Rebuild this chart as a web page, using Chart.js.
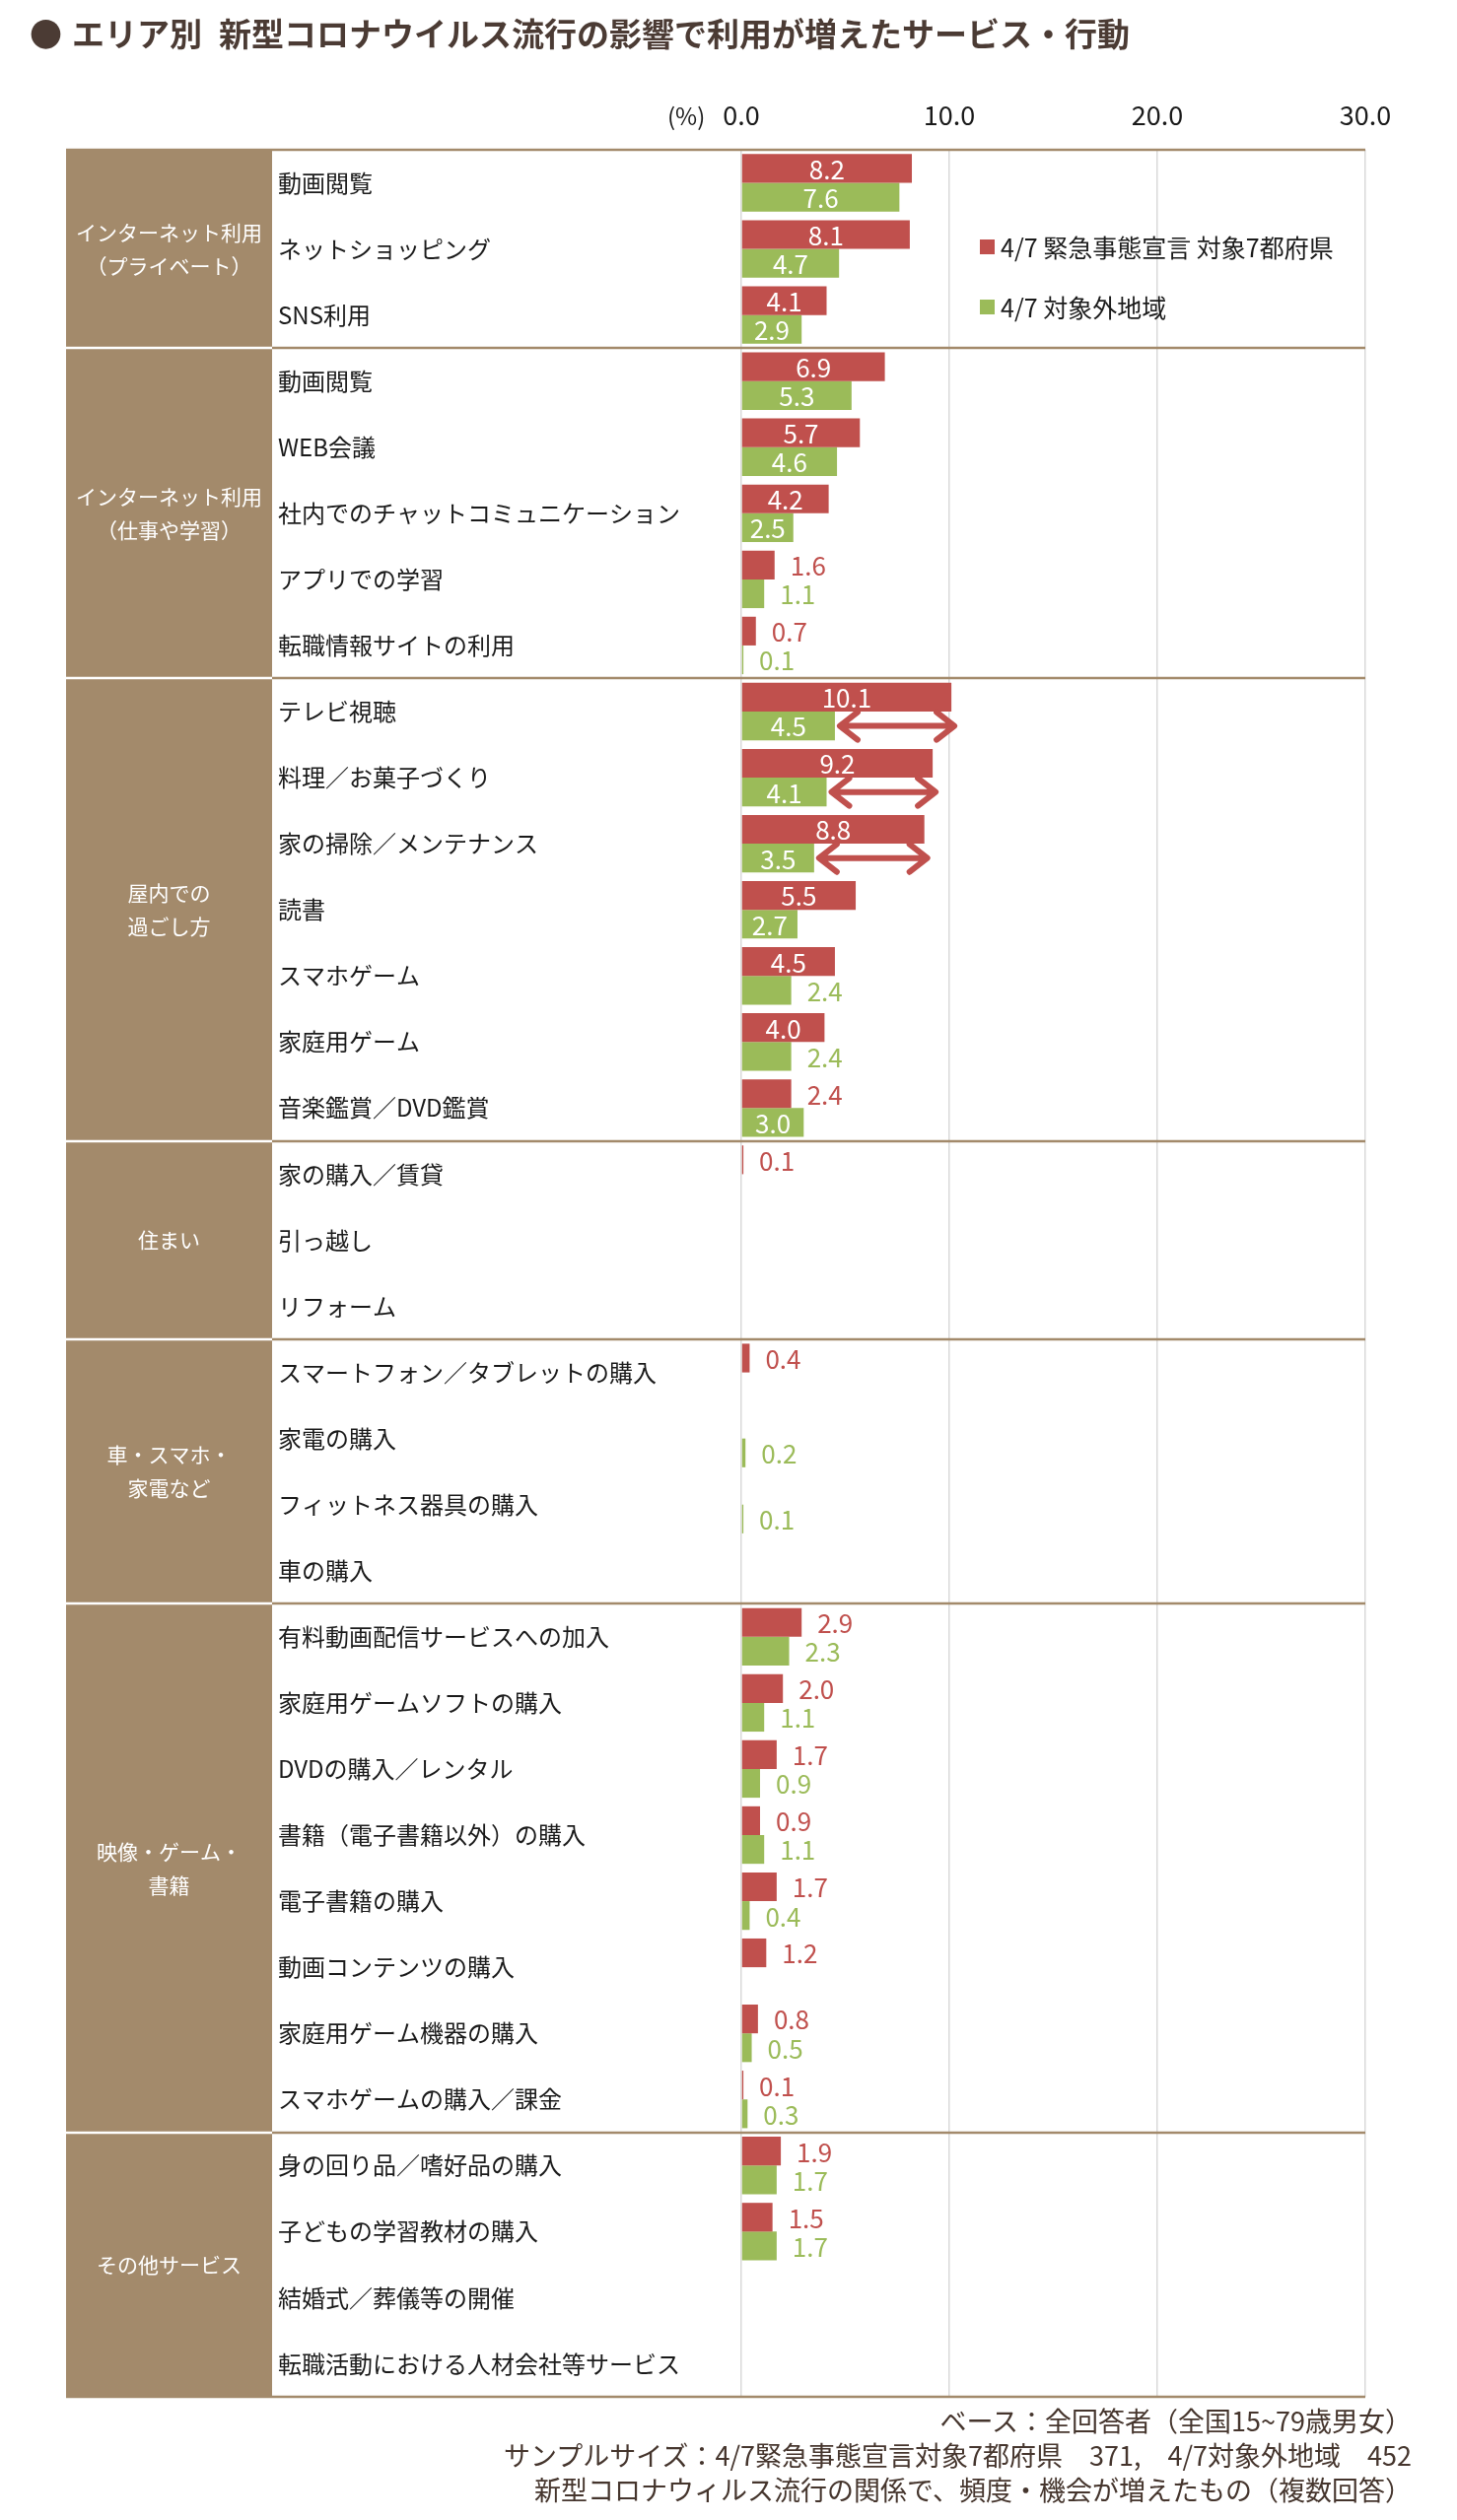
<!DOCTYPE html>
<html>
<head>
<meta charset="utf-8">
<script src="https://cdn.jsdelivr.net/npm/chart.js@4.4.1/dist/chart.umd.min.js"></script>
<style>
  body { margin: 0; background: #fff; font-family: "Noto Sans CJK JP", "Noto Sans", sans-serif; }
  #page { position: relative; width: 1478px; height: 2557px; overflow: hidden; }
  #chart { position: absolute; left: 0; top: 0; }
  .title { position: absolute; top: 13px; font-size: 33px; font-weight: bold; color: #4b3b34; line-height: 40px; white-space: nowrap; }
  .unit { position: absolute; left: 677px; top: 100px; font-size: 24px; line-height: 34px; color: #1a1a1a; }
  .legend { position: absolute; left: 994px; font-size: 25px; line-height: 36px; color: #1a1a1a; display: flex; align-items: center; white-space: nowrap; }
  .legend i { display: inline-block; width: 15px; height: 15px; margin-right: 6px; }
  .foot { position: absolute; right: 46px; font-size: 27px; line-height: 35px; color: #45352d; white-space: nowrap; text-align: right; }
</style>
</head>
<body>
<div id="page">
  <canvas id="chart" width="1478" height="2557"></canvas>
  <div class="title" style="left:30px">●</div>
  <div class="title" style="left:73px">エリア別</div>
  <div class="title" style="left:222px">新型コロナウイルス流行の影響で利用が増えたサービス・行動</div>
  <div class="unit">(%)</div>
  <div class="legend" style="top:232px"><i style="background:#c0504d"></i>4/7 緊急事態宣言 対象7都府県</div>
  <div class="legend" style="top:293px"><i style="background:#9bbb59"></i>4/7 対象外地域</div>
  <div class="foot" style="top:2438px">ベース：全回答者（全国15~79歳男女）</div>
  <div class="foot" style="top:2473px">サンプルサイズ：4/7緊急事態宣言対象7都府県　371,　4/7対象外地域　452</div>
  <div class="foot" style="top:2508px">新型コロナウィルス流行の関係で、頻度・機会が増えたもの（複数回答）</div>
</div>
<script>
// groups on the left (rows per group)
const sectionNames = [
  ["インターネット利用", "（プライベート）"],
  ["インターネット利用", "（仕事や学習）"],
  ["屋内での", "過ごし方"],
  ["住まい"],
  ["車・スマホ・", "家電など"],
  ["映像・ゲーム・", "書籍"],
  ["その他サービス"]
]
const sectionSizes = [3, 5, 7, 3, 4, 8, 4]

const itemLabels = [
  "動画閲覧", "ネットショッピング", "SNS利用",
  "動画閲覧", "WEB会議", "社内でのチャットコミュニケーション", "アプリでの学習", "転職情報サイトの利用",
  "テレビ視聴", "料理／お菓子づくり", "家の掃除／メンテナンス", "読書", "スマホゲーム", "家庭用ゲーム", "音楽鑑賞／DVD鑑賞",
  "家の購入／賃貸", "引っ越し", "リフォーム",
  "スマートフォン／タブレットの購入", "家電の購入", "フィットネス器具の購入", "車の購入",
  "有料動画配信サービスへの加入", "家庭用ゲームソフトの購入", "DVDの購入／レンタル", "書籍（電子書籍以外）の購入",
  "電子書籍の購入", "動画コンテンツの購入", "家庭用ゲーム機器の購入", "スマホゲームの購入／課金",
  "身の回り品／嗜好品の購入", "子どもの学習教材の購入", "結婚式／葬儀等の開催", "転職活動における人材会社等サービス"
]

const seriesNames = ["4/7 緊急事態宣言 対象7都府県", "4/7 対象外地域"]

const emergencyValues = [
  8.2, 8.1, 4.1,
  6.9, 5.7, 4.2, 1.6, 0.7,
  10.1, 9.2, 8.8, 5.5, 4.5, 4.0, 2.4,
  0.1, null, null,
  0.4, null, null, null,
  2.9, 2.0, 1.7, 0.9, 1.7, 1.2, 0.8, 0.1,
  1.9, 1.5, null, null
]
const otherValues = [
  7.6, 4.7, 2.9,
  5.3, 4.6, 2.5, 1.1, 0.1,
  4.5, 4.1, 3.5, 2.7, 2.4, 2.4, 3.0,
  null, null, null,
  null, 0.2, 0.1, null,
  2.3, 1.1, 0.9, 1.1, 0.4, null, 0.5, 0.3,
  1.7, 1.7, null, null
]

// rows with the gap arrow (green end -> red end)
const arrowRows = [8, 9, 10]
const xMin = 0, xMax = 30, xStep = 10

const BROWN = "#a38a6b"
const RED = "#c0504d"
const GREEN = "#9bbb59"
const FONT = '"Noto Sans CJK JP", "Noto Sans", sans-serif'
const COL_LEFT = 67, COL_RIGHT = 276

const tablePlugin = {
  id: "table",
  beforeDraw(chart) {
    const { ctx, scales: { y } } = chart
    const rowH = y.getPixelForValue(1) - y.getPixelForValue(0)
    let start = 0
    ctx.save()
    sectionSizes.forEach((n, i) => {
      const top = y.getPixelForValue(start) - rowH / 2
      const bottom = y.getPixelForValue(start + n - 1) + rowH / 2
      ctx.fillStyle = BROWN
      ctx.fillRect(COL_LEFT, top, COL_RIGHT - COL_LEFT, bottom - top)
      const lines = sectionNames[i]
      const lh = 34
      const mid = (top + bottom) / 2
      ctx.fillStyle = "#fff"
      ctx.font = "21px " + FONT
      ctx.textAlign = "center"
      ctx.textBaseline = "middle"
      lines.forEach((t, j) => {
        ctx.fillText(t, (COL_LEFT + COL_RIGHT) / 2, mid + (j - (lines.length - 1) / 2) * lh)
      })
      start += n
    })
    ctx.restore()
  },
  afterDraw(chart) {
    const { ctx, chartArea, scales: { y } } = chart
    const rowH = y.getPixelForValue(1) - y.getPixelForValue(0)
    let k = 0
    const bounds = [0]
    sectionSizes.forEach(n => { k += n; bounds.push(k) })
    ctx.save()
    ctx.lineWidth = 2.5
    bounds.forEach((b, i) => {
      const py = Math.round(y.getPixelForValue(b) - rowH / 2)
      const edge = i === 0 || i === bounds.length - 1
      ctx.strokeStyle = BROWN
      ctx.beginPath()
      ctx.moveTo(edge ? COL_LEFT : COL_RIGHT, py)
      ctx.lineTo(chartArea.right, py)
      ctx.stroke()
      if (!edge) {
        ctx.strokeStyle = "#fff"
        ctx.beginPath()
        ctx.moveTo(COL_LEFT, py)
        ctx.lineTo(COL_RIGHT, py)
        ctx.stroke()
      }
    })
    ctx.restore()
  }
}

const valueLabels = {
  id: "valueLabels",
  afterDatasetsDraw(chart) {
    const { ctx } = chart
    ctx.save()
    ctx.font = "26px " + FONT
    ctx.textBaseline = "middle"
    chart.data.datasets.forEach((ds, di) => {
      const meta = chart.getDatasetMeta(di)
      meta.data.forEach((bar, i) => {
        const v = ds.data[i]
        if (v === null) return
        const txt = v.toFixed(1)
        if (i < 15 && v >= 2.5) {
          ctx.fillStyle = "#fff"
          ctx.textAlign = "center"
          ctx.fillText(txt, (bar.base + bar.x) / 2, bar.y + 1)
        } else {
          ctx.fillStyle = ds.backgroundColor
          ctx.textAlign = "left"
          ctx.fillText(txt, bar.x + 16, bar.y + 1)
        }
      })
    })
    ctx.restore()
  }
}

const gapArrows = {
  id: "gapArrows",
  afterDatasetsDraw(chart) {
    const { ctx, scales: { x } } = chart
    const green = chart.getDatasetMeta(1)
    ctx.save()
    ctx.strokeStyle = RED
    ctx.lineWidth = 6
    ctx.lineCap = "round"
    ctx.lineJoin = "round"
    arrowRows.forEach(i => {
      const cy = green.data[i].y
      const x0 = x.getPixelForValue(otherValues[i]) + 5
      const x1 = x.getPixelForValue(emergencyValues[i]) + 3
      ctx.beginPath()
      ctx.moveTo(x0 + 2, cy)
      ctx.lineTo(x1 - 2, cy)
      ctx.moveTo(x0 + 18, cy - 14)
      ctx.lineTo(x0, cy)
      ctx.lineTo(x0 + 18, cy + 14)
      ctx.moveTo(x1 - 18, cy - 14)
      ctx.lineTo(x1, cy)
      ctx.lineTo(x1 - 18, cy + 14)
      ctx.stroke()
    })
    ctx.restore()
  }
}

new Chart(document.getElementById("chart").getContext("2d"), {
  type: "bar",
  data: {
    labels: itemLabels,
    datasets: [
      { label: seriesNames[0], data: emergencyValues, backgroundColor: RED },
      { label: seriesNames[1], data: otherValues, backgroundColor: GREEN }
    ]
  },
  options: {
    indexAxis: "y",
    responsive: false,
    animation: false,
    events: [],
    categoryPercentage: 0.87,
    barPercentage: 1.0,
    layout: { padding: { left: 282, right: 93, top: 0, bottom: 125 } },
    plugins: { legend: { display: false }, tooltip: { enabled: false } },
    scales: {
      x: {
        position: "top",
        min: xMin,
        max: xMax,
        ticks: {
          stepSize: xStep,
          padding: 19,
          color: "#1a1a1a",
          font: { family: FONT, size: 27 },
          callback: v => v.toFixed(1)
        },
        grid: { color: "#d9d9d9", lineWidth: 1.5, drawTicks: false },
        border: { display: false },
        afterFit: axis => { axis.height = 152 }
      },
      y: {
        ticks: {
          autoSkip: false,
          crossAlign: "far",
          color: "#1a1a1a",
          font: { family: FONT, size: 24 }
        },
        grid: { display: false },
        border: { display: false },
        afterFit: axis => { axis.width = 752 - 282 }
      }
    }
  },
  plugins: [tablePlugin, valueLabels, gapArrows]
})
</script>
</body>
</html>
